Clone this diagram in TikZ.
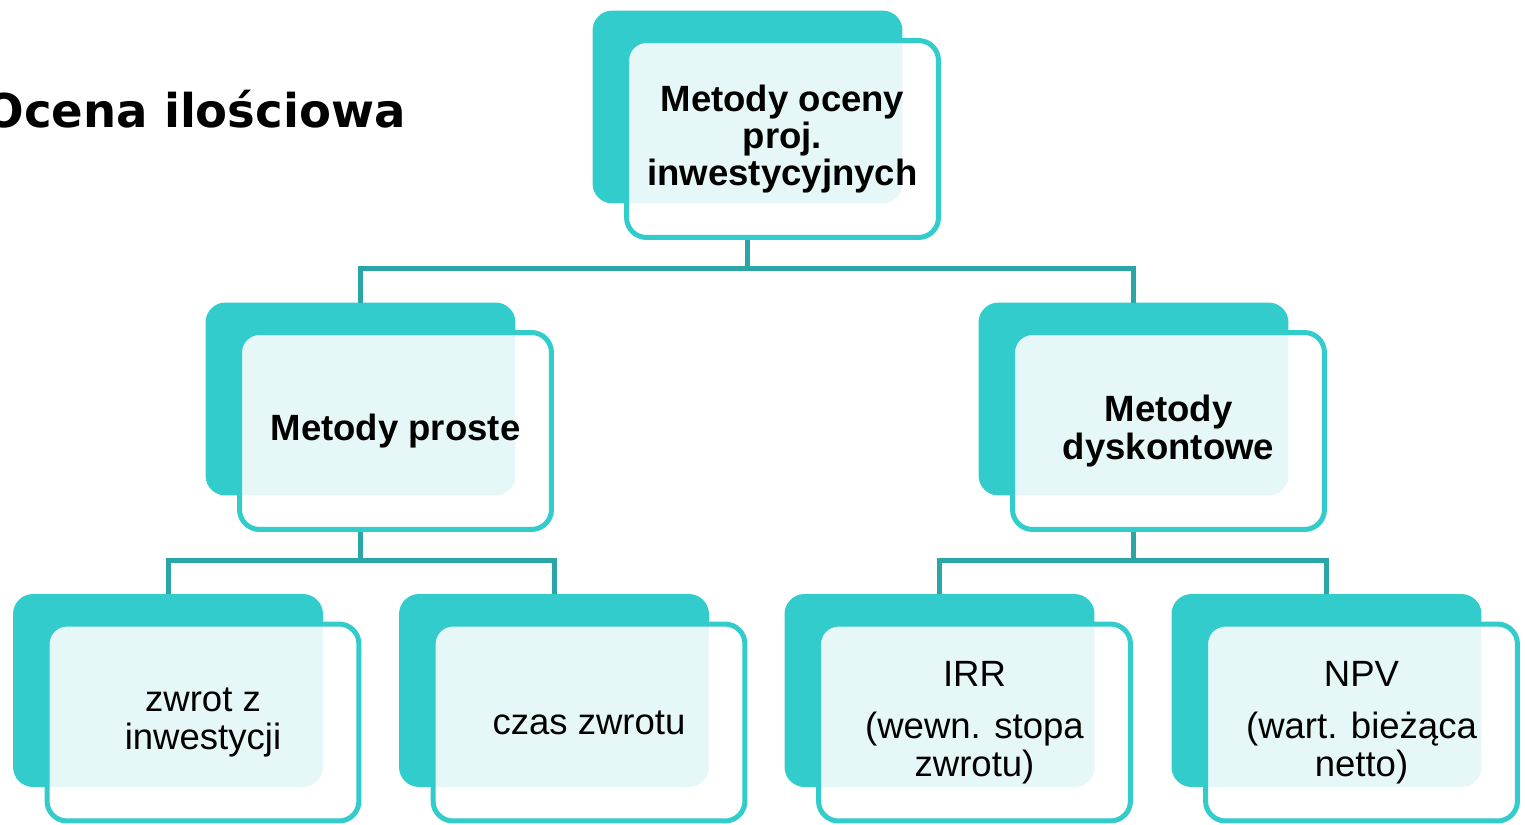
\documentclass[tikz,border=0pt]{standalone}
\usepackage{fontspec}
\setmainfont{Liberation Sans}
\newfontfamily\titlefont{DejaVu Sans}
\usetikzlibrary{positioning,backgrounds}
\definecolor{boxteal}{RGB}{51,204,204}
\definecolor{lineteal}{RGB}{42,166,166}
\definecolor{paleteal}{RGB}{230,247,247}

\begin{document}
\begin{tikzpicture}[x=0.02cm,y=-0.02cm]
        \tikzstyle{frontbox}=[rectangle, rounded corners=0.4cm, draw=boxteal, line width=0.1cm, outer sep=0pt, minimum width=6.24cm, minimum height=3.94cm, align=center, font=\fontsize{20.8}{21.2}\selectfont]
        \tikzstyle{backbox}=[rectangle, rounded corners=0.4cm, fill=boxteal, minimum width=6.2cm, minimum height=3.86cm, inner sep=0pt, outer sep=0pt, anchor=north west]
        \tikzstyle{connect}=[draw=lineteal, line width=0.1cm]
        \clip (0,0) rectangle (1525,825);
        \node[anchor=base east, inner sep=0pt, font=\titlefont\bfseries\fontsize{26.5}{30}\selectfont] (title) at (406,127) {Ocena ilościowa};
        % front boxes
        \node[frontbox] (top) at (782.5,139) {\textbf{Metody oceny}\\\textbf{proj.}\\\textbf{inwestycyjnych}};
        \node[frontbox] (proste) at (395.5,431) {\textbf{Metody proste}};
        \node[frontbox] (dysk) at (1168.5,431) {\textbf{Metody}\\\textbf{dyskontowe}};
        \node[frontbox] (zwrotz) at (203,722.5) {zwrot z\\inwestycji};
        \node[frontbox] (czas) at (589,722.5) {czas zwrotu};
        \node[frontbox] (irr) at (974.5,722.5) {IRR\\[0.3cm](wewn. stopa\\zwrotu)};
        \node[frontbox] (npv) at (1361.5,722.5) {NPV\\[0.3cm](wart. bieżąca\\netto)};
        \begin{pgfonlayer}{background}
          \foreach \n in {top,proste,dysk,zwrotz,czas,irr,npv}
            \node[backbox] (back\n) at ([shift={(-34,-30)}]\n.north west) {};
          \draw[connect] (backtop.south) -- ++(0,65) -| (backproste.north);
          \draw[connect] (backtop.south) -- ++(0,65) -| (backdysk.north);
          \draw[connect] (backproste.south) -- ++(0,65) -| (backzwrotz.north);
          \draw[connect] (backproste.south) -- ++(0,65) -| (backczas.north);
          \draw[connect] (backdysk.south) -- ++(0,65) -| (backirr.north);
          \draw[connect] (backdysk.south) -- ++(0,65) -| (backnpv.north);
          \foreach \n in {top,proste,dysk,zwrotz,czas,irr,npv} {
            \fill[white, rounded corners=0.4cm] (\n.north west) rectangle (\n.south east);
            \begin{scope}
              \clip[rounded corners=0.4cm] (back\n.north west) rectangle (back\n.south east);
              \fill[paleteal, rounded corners=0.4cm] (\n.north west) rectangle (\n.south east);
            \end{scope}
          }
        \end{pgfonlayer}
\end{tikzpicture}
\end{document}
